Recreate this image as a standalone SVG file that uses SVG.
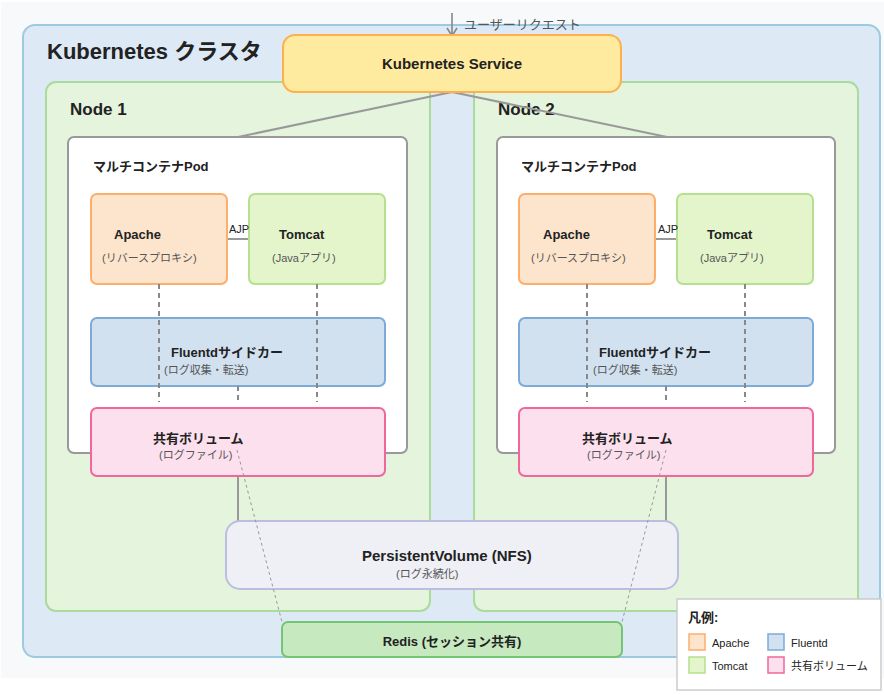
<svg xmlns="http://www.w3.org/2000/svg" width="884" height="695" viewBox="0 0 884 695">
<defs>
<style>
text{font-family:"Liberation Sans","Noto Sans CJK JP",sans-serif;fill:#222}
.b{font-weight:bold}
.sub{font-size:11px;fill:#555}
.box{stroke-width:2}
.apache{fill:#fde4cc;stroke:#fdae6b}
.tomcat{fill:#e4f5cc;stroke:#b4e08f}
.fluent{fill:#d1e1f0;stroke:#7eaad8}
.vol{fill:#fde0ee;stroke:#f0679a}
.dash{stroke:#888;stroke-width:2;stroke-dasharray:5,4;fill:none}
.thin{stroke:#999;stroke-width:1;stroke-dasharray:3,3;fill:none}
.conn{stroke:#999;stroke-width:2;fill:none}
</style>
</defs>
<rect x="1" y="2" width="883" height="676" fill="#f8f9fa"/>

<g id="cluster">
<rect x="23" y="25" width="857" height="632" rx="12" fill="#dde9f5" stroke="#9ecae1" stroke-width="2"/>
<text x="47" y="59" class="b" style="font-size:22px">Kubernetes クラスタ</text>
</g>

<g id="node1">
<rect x="46" y="82" width="384" height="529" rx="10" fill="#e4f4dd" stroke="#a9dc9b" stroke-width="2"/>
<text x="70" y="115" class="b" style="font-size:17px">Node 1</text>
</g>
<g id="node2">
<rect x="474" y="82" width="384" height="529" rx="10" fill="#e4f4dd" stroke="#a9dc9b" stroke-width="2"/>
<text x="498" y="115" class="b" style="font-size:17px">Node 2</text>
</g>

<g id="pod1">
<rect x="68" y="137" width="339" height="316" rx="6" fill="#fff" stroke="#999" stroke-width="2"/>
<text x="93" y="171" class="b" style="font-size:13px">マルチコンテナPod</text>
</g>
<g id="pod2">
<rect x="497" y="137" width="338" height="316" rx="6" fill="#fff" stroke="#999" stroke-width="2"/>
<text x="521" y="171" class="b" style="font-size:13px">マルチコンテナPod</text>
</g>

<g id="connectors">
<path d="M452,13 L452,36 M447,28 L452,36 L457,28" fill="none" stroke="#888" stroke-width="1.6"/>
<path class="conn" d="M452,92 L238,137 M452,92 L667,137"/>
<line x1="227" y1="239" x2="249" y2="239" stroke="#999" stroke-width="2"/>
<line x1="655" y1="239" x2="677" y2="239" stroke="#999" stroke-width="2"/>
<path class="conn" d="M238,476 L238,521 M666,476 L666,521"/>
</g>

<g id="apache1">
<rect x="91" y="194" width="136" height="90" rx="6" class="box apache"/>
<text x="114" y="239" class="b" style="font-size:13px">Apache</text>
<text x="102" y="262" class="sub">(リバースプロキシ)</text>
</g>
<g id="tomcat1">
<rect x="249" y="194" width="136" height="90" rx="6" class="box tomcat"/>
<text x="279" y="239" class="b" style="font-size:13px">Tomcat</text>
<text x="272" y="262" class="sub">(Javaアプリ)</text>
</g>
<g id="fluentd1">
<rect x="91" y="318" width="294" height="68" rx="6" class="box fluent"/>
<text x="171" y="357" class="b" style="font-size:13px">Fluentdサイドカー</text>
<text x="164" y="374" class="sub">(ログ収集・転送)</text>
</g>
<g id="vol1">
<rect x="91" y="408" width="294" height="68" rx="6" class="box vol"/>
<text x="153" y="443" class="b" style="font-size:13px">共有ボリューム</text>
<text x="159" y="459" class="sub">(ログファイル)</text>
</g>

<g id="apache2">
<rect x="519" y="194" width="136" height="90" rx="6" class="box apache"/>
<text x="543" y="239" class="b" style="font-size:13px">Apache</text>
<text x="531" y="262" class="sub">(リバースプロキシ)</text>
</g>
<g id="tomcat2">
<rect x="677" y="194" width="136" height="90" rx="6" class="box tomcat"/>
<text x="707" y="239" class="b" style="font-size:13px">Tomcat</text>
<text x="700" y="262" class="sub">(Javaアプリ)</text>
</g>
<g id="fluentd2">
<rect x="519" y="318" width="294" height="68" rx="6" class="box fluent"/>
<text x="599" y="357" class="b" style="font-size:13px">Fluentdサイドカー</text>
<text x="593" y="374" class="sub">(ログ収集・転送)</text>
</g>
<g id="vol2">
<rect x="519" y="408" width="294" height="68" rx="6" class="box vol"/>
<text x="582" y="443" class="b" style="font-size:13px">共有ボリューム</text>
<text x="587" y="459" class="sub">(ログファイル)</text>
</g>

<g id="pv">
<rect x="226" y="521" width="452" height="68" rx="14" fill="#efeff6" stroke="#bcbde0" stroke-width="2"/>
<text x="362" y="561" class="b" style="font-size:15px">PersistentVolume (NFS)</text>
<text x="396" y="578" class="sub">(ログ永続化)</text>
</g>

<g id="service">
<rect x="283" y="35" width="338" height="57" rx="12" fill="#ffeb9f" stroke="#ffb04c" stroke-width="2"/>
<text x="452" y="69" text-anchor="middle" class="b" style="font-size:15px">Kubernetes Service</text>
</g>
<text x="464" y="29" style="font-size:13px;fill:#555">ユーザーリクエスト</text>

<g id="redis">
<rect x="282" y="622" width="340" height="35" rx="6" fill="#c7e9c0" stroke="#74c476" stroke-width="2"/>
<text x="452" y="646" text-anchor="middle" class="b" style="font-size:13px">Redis (セッション共有)</text>
</g>

<g id="connectors-dashed">
<path class="dash" d="M159,284 V402 M317,284 V402 M238,386 V402"/>
<path class="dash" d="M587,284 V402 M745,284 V402 M666,386 V402"/>
<path class="thin" d="M237,450 L282,622 M666,450 L622,622"/>
<text x="229" y="233" style="font-size:11px">AJP</text>
<text x="658" y="233" style="font-size:11px">AJP</text>
</g>

<g id="legend">
<rect x="677" y="599" width="204" height="91" fill="#fff" stroke="#ccc" stroke-width="1.5"/>
<text x="688" y="622" class="b" style="font-size:13px">凡例:</text>
<rect x="689" y="634" width="16" height="16" stroke-width="1.5" class="apache"/>
<text x="712" y="647" style="font-size:11px">Apache</text>
<rect x="689" y="657" width="16" height="16" stroke-width="1.5" class="tomcat"/>
<text x="712" y="670" style="font-size:11px">Tomcat</text>
<rect x="768" y="634" width="16" height="16" stroke-width="1.5" class="fluent"/>
<text x="791" y="647" style="font-size:11px">Fluentd</text>
<rect x="768" y="657" width="16" height="16" stroke-width="1.5" class="vol"/>
<text x="791" y="670" style="font-size:11px">共有ボリューム</text>
</g>
</svg>
